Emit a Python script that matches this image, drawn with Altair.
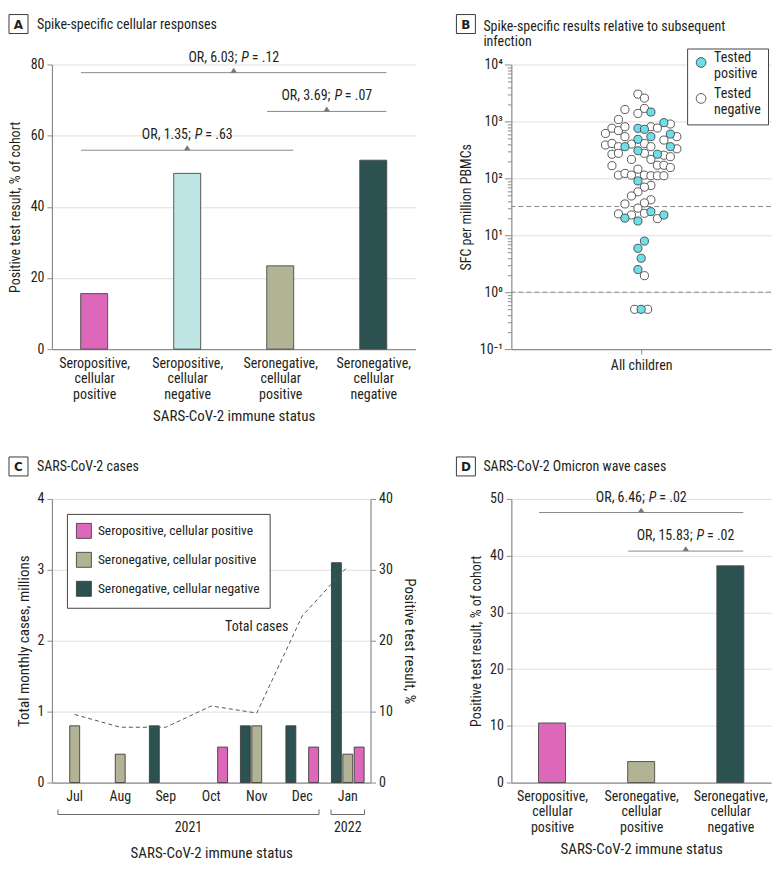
import altair as alt
import pandas as pd

FONT = "'Liberation Sans Narrow', 'Arial Narrow', 'Roboto Condensed', Roboto, sans-serif"
TXT = "#231f20"
AX = "#8c8c8c"
GRID = "#dedede"
BRACKET = "#8a8a8a"

PINK = "#DD67B8"
LCYAN = "#BFE6E4"
OLIVE = "#B2B395"
TEAL = "#2B5251"
DOT = "#6EDEE9"

# ---------------- Panel A data ----------------
cats_a = ["Seropositive, cellular positive", "Seropositive, cellular negative",
          "Seronegative, cellular positive", "Seronegative, cellular negative"]
vals_a = [15.6, 49.4, 23.4, 53.1]
cols_a = [PINK, LCYAN, OLIVE, TEAL]
ann_a_start = [0, 2, 0]
ann_a_end = [3, 3, 2]
ann_a_y = [77.7, 66.8, 55.9]
ann_a_or = ["6.03", "3.69", "1.35"]
ann_a_p = [".12", ".07", ".63"]

# ---------------- Panel D data ----------------
cats_d = ["Seropositive, cellular positive", "Seronegative, cellular positive",
          "Seronegative, cellular negative"]
vals_d = [10.5, 3.7, 38.2]
cols_d = [PINK, OLIVE, TEAL]
ann_d_start = [0, 1]
ann_d_end = [2, 2]
ann_d_y = [47.6, 40.8]
ann_d_or = ["6.46", "15.83"]
ann_d_p = [".02", ".02"]

# ---------------- Panel B data (beeswarm) ----------------
b_slot = [-0.5, 0.5, -2.5, 0.5, -0.5, 1.5, -3.5, 3.5, 4.5, -4.5,
          -5.5, -3.5, -2.5, -0.5, 0.5, 1.5, 2.5, 4.5, 5.5, -5.5,
          -4.5, -3.5, -2.5, -0.5, 1.5, -1.5, 0.5, 3.5, -2.5, -0.5,
          -4.5, -3.5, 0.5, 2.5, 4.5, 5.5, 1.5, 3.5, 4.5, -1.5,
          1.5, -4.5, -0.5, 2.5, 3.5, 4.5, -3.5, -2.5, -1.5, 0.5,
          1.5, 2.5, 3.5, -0.5, 1.5, 0.5, -0.5, -1.5, -2.5, 1.5,
          0.5, -0.5, -1.5, -3.5, -2.5, -0.5, 0.5, 1.5, 2.5, 3.5,
          0.5, -0.5, 0, -0.5, 0.5, -1, 0, 1]
b_sfc = [3020, 2570, 1620, 1690, 1380, 1460, 1080, 950, 900, 760,
         615, 690, 805, 755, 725, 805, 765, 600, 540, 385,
         410, 360, 540, 485, 540, 400, 410, 470, 360, 305,
         265, 275, 275, 265, 360, 330, 360, 255, 240, 215,
         215, 167, 145, 170, 170, 155, 114, 122, 114, 114,
         111, 111, 111, 90, 75, 70, 58, 49, 35.5, 42,
         37, 30, 22.7, 23.7, 20, 17.8, 24.3, 26, 19.6, 22.7,
         7.9, 5.9, 3.95, 2.5, 1.95, 0.5, 0.5, 0.5]
b_pos = [0, 0, 0, 0, 0, 1, 0, 1, 0, 0,
         0, 0, 0, 1, 1, 0, 0, 1, 0, 0,
         0, 0, 0, 1, 1, 0, 0, 0, 1, 1,
         0, 0, 0, 1, 1, 0, 0, 0, 0, 0,
         0, 0, 0, 0, 0, 0, 0, 0, 0, 0,
         0, 0, 0, 1, 0, 0, 0, 0, 0, 0,
         0, 0, 0, 0, 1, 1, 0, 1, 0, 1,
         1, 1, 1, 1, 0, 0, 1, 0]
b_status = ["Tested positive", "Tested negative"]
b_thresholds = [32, 1]

# ---------------- Panel C data ----------------
months = ["Jul", "Aug", "Sep", "Oct", "Nov", "Dec", "Jan"]
series_c = ["Seropositive, cellular positive", "Seronegative, cellular positive",
            "Seronegative, cellular negative"]
cols_c = [PINK, OLIVE, TEAL]
offset_order_c = ["Seronegative, cellular negative", "Seronegative, cellular positive",
                  "Seropositive, cellular positive"]
c_seropos_cp = [0, 0, 0, 5, 0, 5, 5]
c_seroneg_cp = [8, 4, 0, 0, 8, 0, 4]
c_seroneg_cn = [0, 0, 8, 0, 8, 8, 31]
total_cases = [0.96, 0.78, 0.78, 1.08, 0.98, 2.35, 3.05]
years = ["2021", "2022"]
year_first = [0, 6]
year_last = [5, 6]

# ---------------- layout ----------------
WA, WB, WC, WD = 364, 260, 319, 260
H1, H2 = 285, 284
BAR_W = 27
PAD_U = 0.4
NB = "\u00a0"


def char_w(s):
    w = 0
    for ch in s:
        if ch in (" ", NB):
            w += 3.3
        elif ch in ".,;:":
            w += 3.0
        elif ch in "OR":
            w += 8.0
        elif ch == "=":
            w += 6.5
        else:
            w += 6.3
    return w


def panel_label(letter, title, bx, by, tx, ty):
    d = pd.DataFrame({"letter": [letter], "title": [title]})
    box = alt.Chart(d).mark_rect(fill="white", stroke="#3a3a3a", strokeWidth=1).encode(
        x=alt.value(bx), x2=alt.value(bx + 19), y=alt.value(by), y2=alt.value(by + 19))
    let = alt.Chart(d).mark_text(font="DejaVu Sans", fontSize=12, fontWeight="bold", color=TXT,
                                 align="center", baseline="middle").encode(
        x=alt.value(bx + 9.5), y=alt.value(by + 10), text="letter:N")
    ttl = alt.Chart(d).mark_text(font=FONT, fontSize=14, color=TXT, align="left",
                                 baseline="middle", lineBreak="\n", lineHeight=16).encode(
        x=alt.value(tx), y=alt.value(ty), text="title:N")
    return [box, let, ttl]


def bar_panel(cats, vals, cols, a_start, a_end, a_y, a_or, a_p, width, height,
              ymax, ystep, letter, title, bx, by, tx, ty, ytp):
    n = len(cats)
    dom = [-PAD_U, n - 1 + PAD_U]
    ppu = width / (dom[1] - dom[0])
    half = BAR_W / 2 / ppu
    xs = alt.Scale(domain=dom, nice=False, zero=False)
    ys = alt.Scale(domain=[0, ymax], nice=False)
    df = pd.DataFrame({"i": list(range(n)), "cat": cats, "v": vals, "col": cols})
    arr = "[" + ",".join("'" + c + "'" for c in cats) + "]"
    xaxis = alt.Axis(values=list(range(n)), labelExpr=f"split({arr}[datum.value], ' ')",
                     ticks=False, grid=False, labelPadding=7, labelLineHeight=15.5,
                     labelOverlap=False, labelFlush=False, labelBound=False,
                     title="SARS-CoV-2 immune status", titlePadding=7)
    yaxis = alt.Axis(values=list(range(0, ymax + 1, ystep)), tickSize=5, labelPadding=3,
                     grid=True, title="Positive test result, % of cohort", titlePadding=ytp,
                     titleFontSize=14)
    bars = alt.Chart(df).mark_bar(size=BAR_W, stroke="#4a4a4a", strokeWidth=0.9).encode(
        x=alt.X("i:Q", scale=xs, axis=xaxis),
        y=alt.Y("v:Q", scale=ys, axis=yaxis),
        fill=alt.Fill("col:N", scale=None))
    ann = pd.DataFrame({
        "x": [s - half for s in a_start],
        "x2": [e + half for e in a_end],
        "xm": [(s + e) / 2 for s, e in zip(a_start, a_end)],
        "y": a_y})
    rules = alt.Chart(ann).mark_rule(color=BRACKET, strokeWidth=1).encode(
        x=alt.X("x:Q", scale=xs), x2="x2:Q", y=alt.Y("y:Q", scale=ys))
    tri = alt.Chart(ann).mark_point(shape="M-1,0L1,0L0,-1.5Z", filled=True, size=42,
                                    color="#777777", opacity=1).encode(
        x=alt.X("xm:Q", scale=xs), y=alt.Y("y:Q", scale=ys))
    layers = [bars, rules, tri]
    for k in range(len(a_y)):
        pre = f"OR,{NB}{a_or[k]};"
        suf = f"={NB}{a_p[k]}"
        gap1, pw = 4.0, 10.5
        wp, ws = char_w(pre), char_w(suf)
        total = wp + gap1 + pw + ws
        x0 = -total / 2 + wp + gap1
        one = ann.iloc[[k]].copy()
        one["pre"] = pre
        one["P"] = "P"
        one["suf"] = suf
        base = dict(font=FONT, fontSize=14, color=TXT, baseline="middle", dy=-15)
        layers.append(alt.Chart(one).mark_text(align="right", dx=x0 - gap1, **base).encode(
            x=alt.X("xm:Q", scale=xs), y=alt.Y("y:Q", scale=ys), text="pre:N"))
        layers.append(alt.Chart(one).mark_text(align="left", dx=x0, fontStyle="italic", **base).encode(
            x=alt.X("xm:Q", scale=xs), y=alt.Y("y:Q", scale=ys), text="P:N"))
        layers.append(alt.Chart(one).mark_text(align="left", dx=x0 + pw, **base).encode(
            x=alt.X("xm:Q", scale=xs), y=alt.Y("y:Q", scale=ys), text="suf:N"))
    layers += panel_label(letter, title, bx, by, tx, ty)
    return alt.layer(*layers).properties(width=width, height=height)


# ---------------- Panel A ----------------
panel_a = bar_panel(cats_a, vals_a, cols_a, ann_a_start, ann_a_end, ann_a_y, ann_a_or, ann_a_p,
                    WA, H1, 80, 20, "A", "Spike-specific cellular responses", -43, -50, -15, -40, 8)

# ---------------- Panel D ----------------
panel_d = bar_panel(cats_d, vals_d, cols_d, ann_d_start, ann_d_end, ann_d_y, ann_d_or, ann_d_p,
                    WD, H2, 50, 10, "D", "SARS-CoV-2 Omicron wave cases", -55, -42, -28, -32, 6)

# ---------------- Panel B ----------------
dfb = pd.DataFrame({"slot": b_slot, "sfc": b_sfc,
                    "status": [b_status[0] if p else b_status[1] for p in b_pos]})
dfb = dfb.sort_values("status", ascending=True, key=lambda s: s.map({b_status[1]: 0, b_status[0]: 1}),
                      kind="stable")
half_b = WB / 2 / 6.5
xs_b = alt.Scale(domain=[-half_b, half_b], nice=False, zero=False)
ys_b = alt.Scale(type="log", domain=[0.1, 10000], nice=False)
minor_vals = []
for e in range(-1, 4):
    for m in range(1, 10):
        minor_vals.append(m * 10 ** e)
minor_vals.append(10000)
is_major = "abs(log(datum.value)/LN10 - round(log(datum.value)/LN10)) < 0.001"
sup = "['10\u207b\u00b9','10\u2070','10\u00b9','10\u00b2','10\u00b3','10\u2074']"
yaxis_b = alt.Axis(values=minor_vals,
                   labelExpr=f"{is_major} ? {sup}[round(log(datum.value)/LN10)+1] : ''",
                   tickSize={"condition": {"test": is_major, "value": 7}, "value": 4},
                   gridOpacity={"condition": {"test": is_major, "value": 1}, "value": 0},
                   labelPadding=2, labelOverlap=False, labelFontSize=14,
                   title="SFC per million PBMCs", titlePadding=6, titleFontSize=14)
xaxis_b = alt.Axis(values=[0], labelExpr="'All children'", tickSize=5, grid=False,
                   labelPadding=4, title=None, labelFontSize=14)
pts = alt.Chart(dfb).mark_circle(size=66, stroke="#333333", strokeWidth=0.8, opacity=1).encode(
    x=alt.X("slot:Q", scale=xs_b, axis=xaxis_b),
    y=alt.Y("sfc:Q", scale=ys_b, axis=yaxis_b),
    fill=alt.Fill("status:N", scale=alt.Scale(domain=b_status, range=[DOT, "#ffffff"]),
                  legend=alt.Legend(title=None, orient="none", legendX=WB - 84, legendY=-16,
                                    padding=7, strokeColor="#444444", fillColor="white",
                                    symbolType="circle", symbolSize=95,
                                    symbolStrokeColor="#333333", symbolStrokeWidth=0.8,
                                    labelFontSize=14, labelExpr="split(datum.label, ' ')",
                                    labelBaseline="alphabetic", labelOffset=6, rowPadding=6,
                                    labelFont=FONT, labelColor=TXT)))
thr = pd.DataFrame({"t": b_thresholds})
thr_rules = alt.Chart(thr).mark_rule(color="#8a8a8a", strokeDash=[5, 3], strokeWidth=1).encode(
    y=alt.Y("t:Q", scale=ys_b))
panel_b = alt.layer(thr_rules, pts,
                    *panel_label("B", "Spike-specific results relative to subsequent\ninfection",
                                 -55, -50, -28, -38)).properties(width=WB, height=H1)

# ---------------- Panel C ----------------
rows = []
for mi, m in enumerate(months):
    for s, arr in zip(series_c, [c_seropos_cp, c_seroneg_cp, c_seroneg_cn]):
        if arr[mi] > 0:
            rows.append({"month": m, "series": s, "pct": arr[mi]})
dfc = pd.DataFrame(rows)
dfl = pd.DataFrame({"month": months, "total": total_cases})
xband = alt.Scale(domain=months, paddingInner=0, paddingOuter=0)
xpoint = alt.Scale(type="point", domain=months, padding=0.5)
ys_pct = alt.Scale(domain=[0, 40], nice=False)
ys_mil = alt.Scale(domain=[0, 4], nice=False)
bars_c = alt.Chart(dfc).mark_bar(stroke="#3d3d3d", strokeWidth=0.9).encode(
    x=alt.X("month:N", sort=months, scale=xband,
            axis=alt.Axis(ticks=False, grid=False, labelAngle=0, labelPadding=7, labelFontSize=14,
                          title="SARS-CoV-2 immune status", titlePadding=42)),
    xOffset=alt.XOffset("series:N", sort=offset_order_c,
                        scale=alt.Scale(domain=offset_order_c, paddingInner=0.13, paddingOuter=0.565)),
    y=alt.Y("pct:Q", scale=ys_pct,
            axis=alt.Axis(orient="right", values=[0, 10, 20, 30, 40], tickSize=5, labelPadding=3,
                          grid=False, title="Positive test result, %", titlePadding=9)),
    fill=alt.Fill("series:N", scale=alt.Scale(domain=series_c, range=cols_c),
                  legend=alt.Legend(title=None, orient="none", legendX=15, legendY=15,
                                    padding=9, strokeColor="#444444", fillColor="white",
                                    symbolType="square", symbolSize=225,
                                    symbolStrokeColor="#333333", symbolStrokeWidth=0.8,
                                    labelFontSize=13.5, labelOffset=6, rowPadding=9,
                                    labelFont=FONT, labelColor=TXT, labelLimit=400)))
line_c = alt.Chart(dfl).mark_line(color="#555555", strokeDash=[4, 3], strokeWidth=1).encode(
    x=alt.X("month:N", sort=months, scale=xpoint, axis=None),
    y=alt.Y("total:Q", scale=ys_mil,
            axis=alt.Axis(orient="left", values=[0, 1, 2, 3, 4], tickSize=5, labelPadding=3,
                          grid=True, title="Total monthly cases, millions", titlePadding=6)))
lab_c = alt.Chart(pd.DataFrame({"month": ["Nov"], "total": [2.2], "t": ["Total cases"]})).mark_text(
    font=FONT, fontSize=14, color=TXT, align="center", baseline="middle").encode(
    x=alt.X("month:N", sort=months, scale=xpoint, axis=None),
    y=alt.Y("total:Q", scale=ys_mil, axis=None), text="t:N")
inset = 6 / (WC / len(months))
yr = pd.DataFrame({"year": years,
                   "a": [f + inset for f in year_first],
                   "b": [l + 1 - inset for l in year_last]})
yr["mid"] = (yr["a"] + yr["b"]) / 2
xs_idx = alt.Scale(domain=[0, len(months)], nice=False, zero=False)
br_line = alt.Chart(yr).mark_rule(color="#6a6a6a", strokeWidth=1).encode(
    x=alt.X("a:Q", scale=xs_idx, axis=None), x2="b:Q", y=alt.value(H2 + 32))
ends = pd.DataFrame({"e": list(yr["a"]) + list(yr["b"])})
br_ends = alt.Chart(ends).mark_rule(color="#6a6a6a", strokeWidth=1).encode(
    x=alt.X("e:Q", scale=xs_idx, axis=None), y=alt.value(H2 + 27), y2=alt.value(H2 + 32))
br_text = alt.Chart(yr).mark_text(font=FONT, fontSize=14, color=TXT, align="center",
                                  baseline="middle").encode(
    x=alt.X("mid:Q", scale=xs_idx, axis=None), y=alt.value(H2 + 46), text="year:N")
panel_c = alt.layer(bars_c, line_c, lab_c, br_line, br_ends, br_text,
                    *panel_label("C", "SARS-CoV-2 cases", -43, -42, -15, -32)).resolve_scale(
    x="independent", y="independent").properties(width=WC, height=H2)

chart = alt.concat(panel_a, panel_b, panel_c, panel_d, columns=2,
                   spacing={"row": 150, "column": 96}, bounds="flush").resolve_scale(
    fill="independent").resolve_legend(fill="independent").properties(
    padding={"left": 0, "top": 5, "right": 0, "bottom": 0}
).configure_axis(
    labelFont=FONT, titleFont=FONT, labelColor=TXT, titleColor=TXT, labelFontSize=14,
    titleFontSize=15, titleFontWeight="normal", domainColor=AX, tickColor=AX,
    gridColor=GRID, domainWidth=1.2, tickWidth=1
).configure_view(stroke=None)

chart.save("out.html", embed_options={"renderer": "svg", "actions": False})
